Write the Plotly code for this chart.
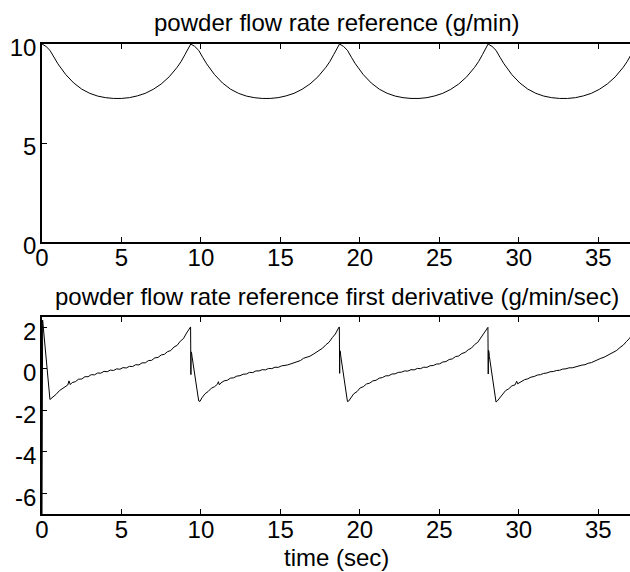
import plotly.graph_objects as go

# ---------------- data ----------------
# powder flow rate reference (g/min) vs time (sec)
t_ref_p1 = [0.00, 0.25, 0.50, 0.75, 1.00, 1.50, 2.00, 2.50, 3.00, 3.50, 4.00, 4.50,
            5.00, 5.50, 6.00, 6.50, 7.00, 7.50, 8.00, 8.50, 8.75, 9.00, 9.20]
flow_p1 = [10.00, 9.88, 9.68, 9.33, 9.00, 8.45, 8.03, 7.72, 7.51, 7.37, 7.29, 7.25,
           7.25, 7.29, 7.38, 7.51, 7.71, 7.98, 8.34, 8.82, 9.11, 9.47, 9.78]
t_ref_p2 = [9.36, 9.61, 9.86, 10.11, 10.36, 10.86, 11.36, 11.86, 12.36, 12.86, 13.36, 13.86,
            14.36, 14.86, 15.36, 15.86, 16.36, 16.86, 17.36, 17.86, 18.11, 18.36, 18.56]
flow_p2 = [10.00, 9.88, 9.68, 9.33, 9.00, 8.45, 8.03, 7.72, 7.51, 7.37, 7.29, 7.25,
           7.25, 7.29, 7.38, 7.51, 7.71, 7.98, 8.34, 8.82, 9.11, 9.47, 9.78]
t_ref_p3 = [18.72, 18.97, 19.22, 19.47, 19.72, 20.22, 20.72, 21.22, 21.72, 22.22, 22.72, 23.22,
            23.72, 24.22, 24.72, 25.22, 25.72, 26.22, 26.72, 27.22, 27.47, 27.72, 27.92]
flow_p3 = [10.00, 9.88, 9.68, 9.33, 9.00, 8.45, 8.03, 7.72, 7.51, 7.37, 7.29, 7.25,
           7.25, 7.29, 7.38, 7.51, 7.71, 7.98, 8.34, 8.82, 9.11, 9.47, 9.78]
t_ref_p4 = [28.07, 28.32, 28.57, 28.82, 29.07, 29.57, 30.07, 30.57, 31.07, 31.57, 32.07, 32.57,
            33.07, 33.57, 34.07, 34.57, 35.07, 35.57, 36.07, 36.57, 36.82, 37.07]
flow_p4 = [10.00, 9.88, 9.68, 9.33, 9.00, 8.45, 8.03, 7.72, 7.51, 7.37, 7.29, 7.25,
           7.25, 7.29, 7.38, 7.51, 7.71, 7.98, 8.34, 8.82, 9.11, 9.47]

# powder flow rate reference first derivative (g/min/sec) vs time (sec)
t_der_p1 = [0.00, 0.04, 0.50, 0.70, 0.90, 1.10, 1.30, 1.50, 1.62, 1.70, 1.78, 1.90,
            2.10, 2.30, 2.50, 2.70, 2.90, 3.10, 3.30, 3.50, 3.70, 3.90, 4.10, 4.30,
            4.50, 4.70, 4.90, 5.10, 5.30, 5.50, 5.70, 5.90, 6.10, 6.30, 6.50, 6.70,
            6.90, 7.10, 7.30, 7.50, 7.70, 7.90, 8.10, 8.30, 8.50, 8.70, 8.90, 9.10,
            9.30, 9.35]
der_p1 = [-7.30, 2.35, -1.48, -1.36, -1.22, -1.05, -0.95, -0.83, -0.78, -0.58, -0.76, -0.66,
          -0.62, -0.50, -0.49, -0.38, -0.38, -0.28, -0.29, -0.20, -0.21, -0.12, -0.14, -0.06,
          -0.08, 0.00, -0.02, 0.06, 0.04, 0.12, 0.11, 0.20, 0.19, 0.29, 0.29, 0.40,
          0.41, 0.53, 0.55, 0.67, 0.70, 0.83, 0.88, 1.05, 1.13, 1.33, 1.46, 1.73,
          1.96, 2.02]
t_der_p2 = [9.37, 9.38, 9.40, 9.41, 9.44, 9.86, 9.94, 10.06, 10.26, 10.46, 10.66, 10.86,
            11.04, 11.10, 11.16, 11.26, 11.46, 11.66, 11.86, 12.06, 12.26, 12.46, 12.66, 12.86,
            13.06, 13.26, 13.46, 13.66, 13.86, 14.06, 14.26, 14.46, 14.66, 14.86, 15.06, 15.26,
            15.46, 15.66, 15.86, 16.06, 16.26, 16.46, 16.66, 16.86, 17.06, 17.26, 17.46, 17.66,
            17.86, 18.06, 18.26, 18.46, 18.66, 18.71]
der_p2 = [-0.28, 0.82, -0.05, 0.78, 0.60, -1.55, -1.57, -1.40, -1.20, -1.09, -0.93, -0.86,
          -0.74, -0.62, -0.77, -0.68, -0.58, -0.55, -0.45, -0.43, -0.35, -0.33, -0.26, -0.25,
          -0.17, -0.18, -0.10, -0.10, -0.04, -0.05, 0.02, 0.01, 0.08, 0.07, 0.14, 0.15,
          0.19, 0.24, 0.29, 0.36, 0.40, 0.51, 0.55, 0.61, 0.70, 0.81, 0.89, 1.00,
          1.16, 1.28, 1.50, 1.68, 1.97, 2.02]
t_der_p3 = [18.73, 18.74, 18.76, 18.77, 18.80, 19.22, 19.30, 19.42, 19.62, 19.82, 20.02, 20.22,
            20.42, 20.62, 20.82, 21.02, 21.22, 21.42, 21.62, 21.82, 22.02, 22.22, 22.42, 22.62,
            22.82, 23.02, 23.22, 23.42, 23.62, 23.82, 24.02, 24.22, 24.42, 24.62, 24.82, 25.02,
            25.22, 25.42, 25.62, 25.82, 26.02, 26.22, 26.42, 26.62, 26.82, 27.02, 27.22, 27.42,
            27.62, 27.82, 28.02, 28.06]
der_p3 = [-0.22, 0.88, -0.02, 0.85, 0.62, -1.58, -1.55, -1.43, -1.20, -1.10, -0.92, -0.86,
          -0.73, -0.69, -0.58, -0.55, -0.45, -0.42, -0.34, -0.33, -0.25, -0.24, -0.17, -0.16,
          -0.10, -0.11, -0.04, -0.05, 0.02, 0.01, 0.08, 0.07, 0.15, 0.16, 0.23, 0.24,
          0.33, 0.35, 0.45, 0.48, 0.59, 0.62, 0.74, 0.79, 0.92, 1.00, 1.17, 1.28,
          1.50, 1.68, 1.96, 2.00]
t_der_p4 = [28.08, 28.09, 28.11, 28.12, 28.15, 28.57, 28.65, 28.77, 28.97, 29.17, 29.37, 29.57,
            29.77, 29.87, 29.93, 30.17, 30.37, 30.57, 30.77, 30.97, 31.17, 31.37, 31.57, 31.77,
            31.97, 32.17, 32.37, 32.57, 32.77, 32.97, 33.17, 33.37, 33.57, 33.77, 33.97, 34.17,
            34.37, 34.57, 34.77, 34.97, 35.17, 35.37, 35.57, 35.77, 35.97, 36.17, 36.37, 36.57,
            36.77, 36.97, 37.17]
der_p4 = [-0.25, 0.90, -0.05, 0.85, 0.60, -1.60, -1.55, -1.42, -1.25, -1.05, -0.96, -0.82,
          -0.77, -0.60, -0.72, -0.61, -0.52, -0.48, -0.40, -0.37, -0.30, -0.28, -0.22, -0.20,
          -0.14, -0.13, -0.08, -0.07, -0.01, 0.00, 0.05, 0.05, 0.10, 0.12, 0.18, 0.20,
          0.27, 0.30, 0.38, 0.42, 0.51, 0.56, 0.65, 0.71, 0.81, 0.89, 1.03, 1.14,
          1.31, 1.47, 1.70]

top_title = "powder flow rate reference (g/min)"
bottom_title = "powder flow rate reference first derivative (g/min/sec)"
x_label = "time (sec)"
x_ticks = [0, 5, 10, 15, 20, 25, 30, 35]
x_ticktext = ["0", "5", "10", "15", "20", "25", "30", "35"]
top_yticks = [0, 5, 10]
top_yticktext = ["0", "5", "10"]
bottom_yticks = [-6, -4, -2, 0, 2]
bottom_yticktext = ["-6", "-4", "-2", "0", "2"]

# ---------------- figure ----------------
t_ref = t_ref_p1 + t_ref_p2 + t_ref_p3 + t_ref_p4
flow_ref = flow_p1 + flow_p2 + flow_p3 + flow_p4
t_der = t_der_p1 + t_der_p2 + t_der_p3 + t_der_p4
flow_der = der_p1 + der_p2 + der_p3 + der_p4

W, H = 630, 572
ML, MR, MT, MB = 42, 0, 44, 58
PH = H - MT - MB  # 470


def py2paper(py):
    return (H - MB - py) / PH


FONT = "Arial, 'Liberation Sans', sans-serif"
fig = go.Figure()
fig.add_trace(go.Scatter(x=t_ref, y=flow_ref, mode="lines",
                         line=dict(color="black", width=1),
                         xaxis="x", yaxis="y", showlegend=False, hoverinfo="skip"))
fig.add_trace(go.Scatter(x=t_der, y=flow_der, mode="lines",
                         line=dict(color="black", width=1),
                         xaxis="x2", yaxis="y2", showlegend=False, hoverinfo="skip"))

axis_common = dict(showline=True, linecolor="black", linewidth=1.5,
                   ticks="inside", ticklen=5, tickwidth=1, tickcolor="black",
                   showgrid=False, zeroline=False,
                   tickfont=dict(family=FONT, size=24, color="black"))

fig.update_layout(
    width=W, height=H,
    margin=dict(l=ML, r=MR, t=MT, b=MB, pad=0),
    paper_bgcolor="white", plot_bgcolor="white",
    xaxis=dict(axis_common, domain=[0, 1], range=[0, 37.0], tickvals=x_ticks,
               ticktext=x_ticktext, mirror="ticks", anchor="y", ticklabelstandoff=-7),
    yaxis=dict(axis_common, domain=[py2paper(242), 1], range=[0, 10], tickvals=top_yticks,
               ticktext=top_yticktext, mirror=False, anchor="x",
               ticklabelshift=4, ticklabelstandoff=-1),
    xaxis2=dict(axis_common, domain=[0, 1], range=[0, 37.0], tickvals=x_ticks,
                ticktext=x_ticktext, mirror="ticks", anchor="y2", ticklabelstandoff=-7),
    yaxis2=dict(axis_common, domain=[0, py2paper(317)], range=[-7, 2.5], tickvals=bottom_yticks,
                ticktext=bottom_yticktext, mirror=False, anchor="x2",
                ticklabelshift=4, ticklabelstandoff=-1),
    annotations=[
        dict(text=top_title, xref="paper", yref="paper", x=(337 - ML) / (W - ML - MR),
             y=py2paper(22), xanchor="center", yanchor="middle", showarrow=False,
             font=dict(family=FONT, size=24, color="black")),
        dict(text=bottom_title, xref="paper", yref="paper", x=(337 - ML) / (W - ML - MR),
             y=py2paper(296), xanchor="center", yanchor="middle", showarrow=False,
             font=dict(family=FONT, size=24, color="black")),
        dict(text=x_label, xref="paper", yref="paper", x=(337 - ML) / (W - ML - MR),
             y=py2paper(557), xanchor="center", yanchor="middle", showarrow=False,
             font=dict(family=FONT, size=24, color="black")),
    ],
)

fig.write_html("out.html")
